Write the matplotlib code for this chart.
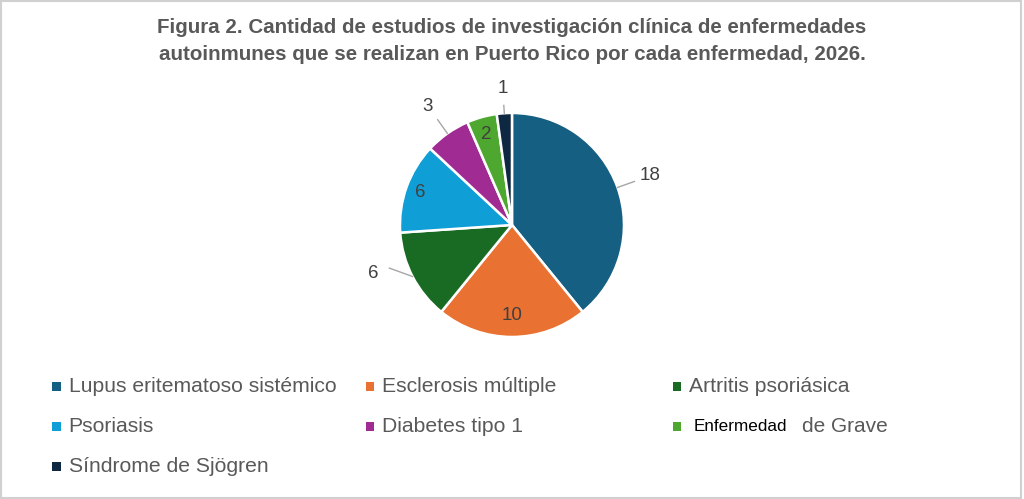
import numpy as np
import matplotlib.pyplot as plt
from matplotlib.patches import Rectangle

# datos
enfermedades = ["Lupus eritematoso sistémico", "Esclerosis múltiple", "Artritis psoriásica",
                "Psoriasis", "Diabetes tipo 1", "Enfermedad de Grave", "Síndrome de Sjögren"]
estudios = [18, 10, 6, 6, 3, 2, 1]
colores = ["#156082", "#E97132", "#196B24", "#0F9ED5", "#A02B93", "#4EA72E", "#0E2841"]

titulo = ("Figura 2. Cantidad de estudios de investigación clínica de enfermedades\n"
          "autoinmunes que se realizan en Puerto Rico por cada enfermedad, 2026.")

# posicion de etiqueta: (radio, ajuste de angulo, con linea guia)
etiq_pos = [(1.31, 0, True), (0.81, 0, False), (1.31, -8, True), (0.87, 0, False),
            (1.30, 0, True), (0.84, 0, False), (1.22, 0, True)]

plt.rcParams['font.family'] = ['Liberation Sans', 'DejaVu Sans']
gris = "#595959"

fig = plt.figure(figsize=(10.24, 4.99), dpi=100)
fig.patch.set_facecolor("white")
fig.patches.append(Rectangle((0.001, 0.003), 0.996, 0.994, transform=fig.transFigure,
                             fill=False, edgecolor="#D0D0D0", linewidth=1.5))

fig.text(0.5, 0.918, titulo, ha="center", va="center", fontsize=14.8, fontweight="bold",
         color=gris, linespacing=1.55)

ax = fig.add_axes([0.3906, 0.3247, 0.21875, 0.4489])
wedges, _ = ax.pie(estudios, colors=colores, startangle=90, counterclock=False, radius=1,
                   wedgeprops=dict(edgecolor="white", linewidth=1.8))
ax.set_xlim(-1, 1)
ax.set_ylim(-1, 1)
ax.set_aspect("equal")
ax.axis("off")

for w, v, (r, da, guia) in zip(wedges, estudios, etiq_pos):
    ang = np.deg2rad((w.theta1 + w.theta2) / 2 + da)
    ang0 = np.deg2rad((w.theta1 + w.theta2) / 2)
    x, y = r * np.cos(ang), r * np.sin(ang)
    ax.text(x, y, str(v), ha="center", va="center", fontsize=13.5, color="#404040")
    if guia:
        x0, y0 = 1.0 * np.cos(ang0), 1.0 * np.sin(ang0)
        x1, y1 = (r - 0.15) * np.cos(ang), (r - 0.15) * np.sin(ang)
        ax.plot([x0, x1], [y0, y1], color="#A6A6A6", linewidth=1, clip_on=False)

# leyenda manual en 3 columnas
col_x = [0.051, 0.357, 0.657]
fila_y = [0.226, 0.146, 0.066]
for i, (nombre, c) in enumerate(zip(enfermedades, colores)):
    cx = col_x[i % 3]
    cy = fila_y[i // 3]
    fig.patches.append(Rectangle((cx - 0.0, cy - 0.01), 0.0085, 0.019,
                                 transform=fig.transFigure, facecolor=c, edgecolor="none"))
    if nombre.startswith("Enfermedad"):
        fig.text(cx + 0.02, cy, "Enfermedad", ha="left", va="center", fontsize=12.3,
                 color="black")
        fig.text(cx + 0.126, cy, "de Grave", ha="left", va="center", fontsize=15,
                 color=gris)
    else:
        fig.text(cx + 0.016, cy, nombre, ha="left", va="center", fontsize=15.2, color=gris)

fig.savefig("out.png", dpi=100)
